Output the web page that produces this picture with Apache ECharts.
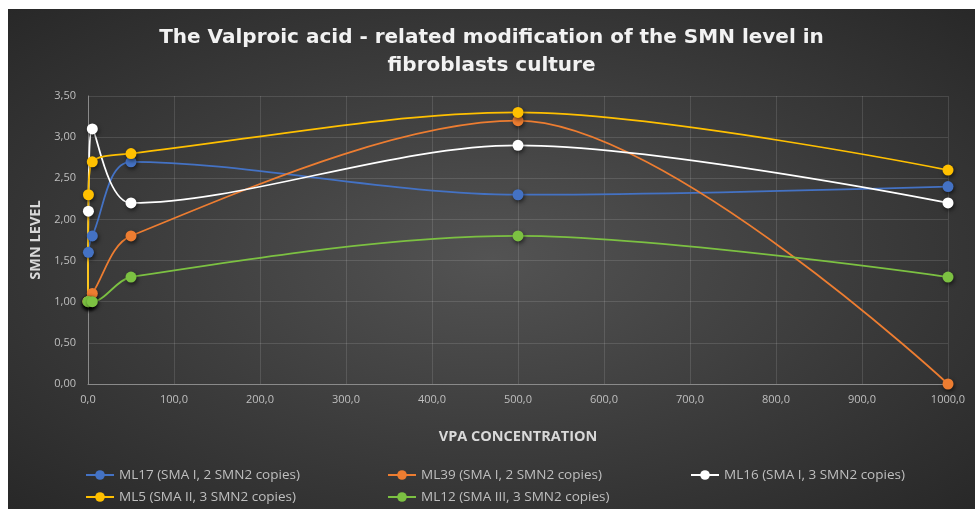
<!DOCTYPE html>
<html>
<head>
<meta charset="utf-8">
<script src="https://cdn.jsdelivr.net/npm/echarts@6/dist/echarts.min.js"></script>
<style>
  html, body { margin: 0; padding: 0; background: #fff; }
  #chart {
    position: absolute;
    left: 8px;
    top: 9px;
    width: 967px;
    height: 500px;
    background: radial-gradient(ellipse farthest-corner at 50% 50%, #535353 0%, #3b3b3b 55%, #282828 100%);
  }
</style>
</head>
<body>
<div id="chart"></div>
<script>
// VPA concentrations
const concentrations = [0, 0.5, 5, 50, 500, 1000];

// SMN level per cell line
const ml17 = [1.0, 1.6, 1.8, 2.7, 2.3, 2.4];
const ml39 = [1.0, 1.0, 1.1, 1.8, 3.2, 0.0];
const ml16 = [1.0, 2.1, 3.1, 2.2, 2.9, 2.2];
const ml5  = [1.0, 2.3, 2.7, 2.8, 3.3, 2.6];
const ml12 = [1.0, 1.0, 1.0, 1.3, 1.8, 1.3];

const seriesNames = [
  'ML17 (SMA I, 2 SMN2 copies)',
  'ML39 (SMA I, 2 SMN2 copies)',
  'ML16 (SMA I, 3 SMN2 copies)',
  'ML5 (SMA II, 3 SMN2 copies)',
  'ML12 (SMA III, 3 SMN2 copies)'
];
const seriesValues = [ml17, ml39, ml16, ml5, ml12];
const seriesColors = ['#4472C4', '#ED7D31', '#FFFFFF', '#FFC000', '#7CC142'];

// tick labels
const xTicks = [0, 100, 200, 300, 400, 500, 600, 700, 800, 900, 1000];
const yTicks = [0, 0.5, 1, 1.5, 2, 2.5, 3, 3.5];

// legend slots (column, row)
const legendSlots = [[0, 0], [1, 0], [2, 0], [0, 1], [1, 1]];
const legendCols = [77, 379, 682];
const legendRows = [459, 481];

const chart = echarts.init(document.getElementById('chart'));

const option = {
  animation: false,
  title: {
    text: 'The Valproic acid - related modification of the SMN level in\nfibroblasts culture',
    left: 'center',
    top: 10,
    textStyle: {
      color: '#f2f2f2',
      fontSize: 20,
      fontWeight: 'bold',
      fontFamily: 'DejaVu Sans',
      lineHeight: 28
    }
  },
  legend: seriesNames.map((name, i) => ({
    data: [name],
    left: legendCols[legendSlots[i][0]],
    top: legendRows[legendSlots[i][1]],
    padding: 0,
    itemWidth: 28,
    itemHeight: 12,
    itemGap: 0,
    textStyle: { color: '#bfbfbf', fontSize: 13.5, fontFamily: 'Open Sans' }
  })),
  grid: {
    left: 80,
    right: 27,
    top: 87,
    bottom: 125
  },
  xAxis: {
    type: 'value',
    min: xTicks[0],
    max: xTicks[xTicks.length - 1],
    interval: 100,
    name: 'VPA CONCENTRATION',
    nameLocation: 'middle',
    nameGap: 45,
    nameTextStyle: { color: '#d9d9d9', fontSize: 14.5, fontWeight: 'bold', fontFamily: 'Open Sans' },
    axisLine: { show: true, lineStyle: { color: '#8a8a8a', width: 1 } },
    axisTick: { show: false },
    axisLabel: {
      color: '#bfbfbf',
      fontSize: 11,
      fontFamily: 'Open Sans',
      margin: 10,
      formatter: v => v.toFixed(1).replace('.', ',')
    },
    splitLine: { show: true, lineStyle: { color: 'rgba(255,255,255,0.12)' } }
  },
  yAxis: {
    type: 'value',
    min: yTicks[0],
    max: yTicks[yTicks.length - 1],
    interval: 0.5,
    name: 'SMN LEVEL',
    nameLocation: 'middle',
    nameGap: 41,
    nameTextStyle: { color: '#d9d9d9', fontSize: 14.5, fontWeight: 'bold', fontFamily: 'Open Sans' },
    axisLine: { show: true, lineStyle: { color: '#8a8a8a', width: 1 } },
    axisTick: { show: false },
    axisLabel: {
      color: '#bfbfbf',
      fontSize: 11,
      fontFamily: 'Open Sans',
      margin: 12,
      formatter: v => v.toFixed(2).replace('.', ',')
    },
    splitLine: { show: true, lineStyle: { color: 'rgba(255,255,255,0.12)' } }
  },
  series: seriesNames.map((name, i) => ({
    name: name,
    type: 'line',
    smooth: 0.32,
    symbol: 'circle',
    symbolSize: 11,
    data: concentrations.map((c, j) => [c, seriesValues[i][j]]),
    lineStyle: { color: seriesColors[i], width: 1.75 },
    itemStyle: {
      color: seriesColors[i],
      shadowColor: 'rgba(0,0,0,0.6)',
      shadowBlur: 4,
      shadowOffsetX: 1,
      shadowOffsetY: 2
    }
  }))
};

chart.setOption(option);
</script>
</body>
</html>
